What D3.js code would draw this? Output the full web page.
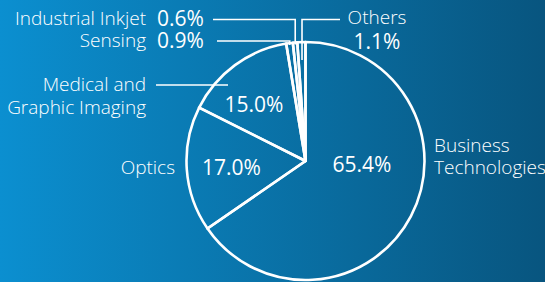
<!DOCTYPE html>
<html>
<head>
<meta charset="utf-8">
<script src="https://cdn.jsdelivr.net/npm/d3@7"></script>
<style>
  html, body { margin: 0; padding: 0; }
  svg { display: block; }
  text { font-family: "Open Sans", "Noto Sans", sans-serif; fill: #fff; }
  .name { font-size: 19px; font-weight: 300; }
  .pct { font-size: 21px; font-weight: 500; }
</style>
</head>
<body>
<svg width="545" height="282"></svg>
<script>
// segments, clockwise from 12 o'clock
const segments = ['Business Technologies', 'Optics', 'Medical and Graphic Imaging', 'Sensing', 'Industrial Inkjet', 'Others'];
const shares = [65.4, 17.0, 15.0, 0.9, 0.6, 1.1];
const shareLabels = ['65.4%', '17.0%', '15.0%', '0.9%', '0.6%', '1.1%'];

const width = 545, height = 282;
const cx = 305.5, cy = 161, radius = 119;

const svg = d3.select('svg');

// background gradient, light blue on the left to deep blue on the right
const grad = svg.append('defs').append('linearGradient')
  .attr('id', 'bg')
  .attr('x1', '0%').attr('x2', '100%')
  .attr('y1', '0%').attr('y2', '0%');
grad.append('stop').attr('offset', '0%').attr('stop-color', '#0b8fd0');
grad.append('stop').attr('offset', '100%').attr('stop-color', '#08557f');

svg.append('rect')
  .attr('width', width).attr('height', height)
  .attr('fill', 'url(#bg)');

const pie = d3.pie().sort(null).value(d => d.value);
const arcs = pie(segments.map((name, i) => ({ name, value: shares[i], label: shareLabels[i] })));

const arc = d3.arc().innerRadius(0).outerRadius(radius);

const g = svg.append('g').attr('transform', `translate(${cx},${cy})`);

g.selectAll('path.slice')
  .data(arcs)
  .enter()
  .append('path')
  .attr('class', 'slice')
  .attr('d', arc)
  .attr('fill', 'none')
  .attr('stroke', '#fff')
  .attr('stroke-width', 2.6)
  .attr('stroke-linejoin', 'round');

const mid = d => (d.startAngle + d.endAngle) / 2;
// point on a slice's middle line at radius r, in page coords
const at = (d, r) => [cx + r * Math.sin(mid(d)), cy - r * Math.cos(mid(d))];

// percentages inside the big slices
const inner = { 'Business Technologies': [362, 164], 'Optics': [231.5, 167], 'Medical and Graphic Imaging': [254, 104] };
arcs.filter(d => inner[d.data.name]).forEach(d => {
  svg.append('text')
    .attr('class', 'pct')
    .attr('x', inner[d.data.name][0])
    .attr('y', inner[d.data.name][1])
    .attr('text-anchor', 'middle')
    .attr('dominant-baseline', 'central')
    .text(d.data.label);
});

// two-line names as one text each
function twoLine(x, y, anchor, lines) {
  const t = svg.append('text').attr('class', 'name')
    .attr('text-anchor', anchor).attr('dominant-baseline', 'central');
  lines.forEach((s, i) => {
    t.append('tspan').attr('x', x).attr('y', y + i * 22.5).text(s);
  });
}
twoLine(434, 144.5, 'start', ['Business', 'Technologies']);
twoLine(146, 84, 'end', ['Medical and', 'Graphic Imaging']);

svg.append('text').attr('class', 'name').attr('x', 175).attr('y', 167)
  .attr('text-anchor', 'end').attr('dominant-baseline', 'central').text(segments[1]);

// leader for Medical and Graphic Imaging
svg.append('line')
  .attr('x1', 156).attr('y1', 85)
  .attr('x2', 228).attr('y2', 85)
  .attr('stroke', '#fff').attr('stroke-width', 1.6);

// small slices with elbow leaders
const small = [
  { i: 3, y: 41, textX: 146, pctX: 157, lineX: 217, depth: radius - 2 },
  { i: 4, y: 19.5, textX: 146, pctX: 157, lineX: 213, depth: radius - 2 },
];
small.forEach(s => {
  const d = arcs[s.i];
  const p = at(d, s.depth);
  svg.append('path')
    .attr('d', `M${s.lineX},${s.y}H${p[0]}V${p[1]}`)
    .attr('fill', 'none').attr('stroke', '#fff').attr('stroke-width', 1.6);
  svg.append('text').attr('class', 'name').attr('x', s.textX).attr('y', s.y - 1.5)
    .attr('text-anchor', 'end').attr('dominant-baseline', 'central').text(d.data.name);
  svg.append('text').attr('class', 'pct').attr('x', s.pctX).attr('y', s.y - 1.5)
    .attr('dominant-baseline', 'central').text(d.data.label);
});

// Others: leader from the right
const oth = arcs[5];
const po = at(oth, radius - 18);
svg.append('path')
  .attr('d', `M340,19.5H${po[0]}V${po[1]}`)
  .attr('fill', 'none').attr('stroke', '#fff').attr('stroke-width', 1.6);
svg.append('text').attr('class', 'name').attr('x', 377).attr('y', 17)
  .attr('text-anchor', 'middle').attr('dominant-baseline', 'central').text(oth.data.name);
svg.append('text').attr('class', 'pct').attr('x', 377).attr('y', 41)
  .attr('text-anchor', 'middle').attr('dominant-baseline', 'central').text(oth.data.label);
</script>
</body>
</html>
